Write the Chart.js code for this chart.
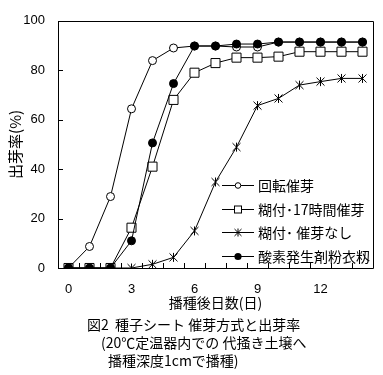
<!DOCTYPE html>
<html>
<head>
<meta charset="utf-8">
<script src="https://cdn.jsdelivr.net/npm/chart.js@4/dist/chart.umd.min.js"></script>
<style>
  html, body { margin: 0; padding: 0; background: #fff; }
  #wrap { position: relative; width: 383px; height: 375px; overflow: hidden; }
  #c { position: absolute; left: 0; top: 0; }
  .cap { position: absolute; font-family: "Noto Sans CJK JP", sans-serif; font-size: 14px; line-height: 16px; color: #000; white-space: pre; }
</style>
</head>
<body>
<div id="wrap">
  <canvas id="c" width="383" height="375"></canvas>
  <div class="cap" style="left:87px; top:316px;">図2  種子シート 催芽方式と出芽率</div>
  <div class="cap" style="left:101px; top:334px;">(20℃定温器内での 代掻き土壌へ</div>
  <div class="cap" style="left:108px; top:352px;">播種深度1cmで播種)</div>
</div>
<script>
// ---- data ----
const days = [0, 1, 2, 3, 4, 5, 6, 7, 8, 9, 10, 11, 12, 13, 14];
const xTickLabels = [0, 3, 6, 9, 12];
const yTickLabels = [0, 20, 40, 60, 80, 100];
const seriesNames = ["回転催芽", "糊付･17時間催芽", "糊付･ 催芽なし", "酸素発生剤粉衣籾"];
const kaiten     = [0, 8.7, 28.9, 64.4, 83.9, 89.0, 89.8, 89.8, 89.4, 89.4, 91.4, 91.4, 91.4, 91.4, 91.4];
const nori17     = [0, 0, 0, 16.3, 41.0, 68.0, 79.0, 82.9, 85.1, 85.1, 85.5, 87.5, 87.5, 87.5, 87.5];
const noriNashi  = [0, 0, 0, 0, 1.5, 4.3, 15.0, 34.8, 48.9, 65.7, 68.6, 74.0, 75.4, 76.7, 76.7];
const sanso      = [0, 0, 0, 11.0, 50.6, 74.6, 89.8, 89.8, 90.6, 90.6, 91.4, 91.4, 91.4, 91.4, 91.4];

function pts(vals) { return days.map((d, i) => ({ x: d, y: vals[i] })); }

function makeStar(r) {
  const s = r * 2 + 3;
  const cv = document.createElement('canvas');
  cv.width = s; cv.height = s;
  const g = cv.getContext('2d');
  const c = s / 2;
  g.strokeStyle = '#000'; g.lineWidth = 1;
  g.beginPath();
  g.moveTo(c - r, c - r); g.lineTo(c + r, c + r);
  g.moveTo(c + r, c - r); g.lineTo(c - r, c + r);
  g.moveTo(c, c - r - 0.5); g.lineTo(c, c + r + 0.5);
  g.stroke();
  return cv;
}
const starImg = makeStar(4);
const starImgSmall = makeStar(3.5);

const CJK = '"Noto Sans CJK JP", sans-serif';
const NUM = '"Liberation Sans", Arial, sans-serif';

const frameAndTicks = {
  id: 'frameAndTicks',
  beforeDatasetsDraw(chart) {
    const { ctx, chartArea: a, scales: { x, y } } = chart;
    ctx.save();
    ctx.strokeStyle = '#000';
    ctx.lineWidth = 1;
    ctx.beginPath();
    ctx.rect(Math.round(a.left) + 0.5, Math.round(a.top) + 0.5, Math.round(a.right - a.left), Math.round(a.bottom - a.top));
    // x ticks between categories, pointing inward
    for (let v = -0.5; v <= 14.5; v += 1) {
      const px = Math.round(x.getPixelForValue(v)) + 0.5;
      ctx.moveTo(px, a.bottom);
      ctx.lineTo(px, a.bottom - 5);
    }
    yTickLabels.forEach(v => {
      const py = Math.round(y.getPixelForValue(v)) + 0.5;
      ctx.moveTo(a.left, py);
      ctx.lineTo(a.left + 5, py);
    });
    ctx.stroke();
    ctx.restore();
  }
};

function drawMarker(ctx, kind, x, y) {
  ctx.save();
  ctx.strokeStyle = '#000';
  ctx.lineWidth = 1;
  if (kind === 0) {
    ctx.fillStyle = '#fff';
    ctx.beginPath(); ctx.arc(x, y, 2.8, 0, Math.PI * 2); ctx.fill(); ctx.stroke();
  } else if (kind === 1) {
    ctx.fillStyle = '#fff';
    ctx.fillRect(x - 3.5, y - 3.5, 7, 7);
    ctx.strokeRect(x - 3.5, y - 3.5, 7, 7);
  } else if (kind === 2) {
    ctx.drawImage(starImgSmall, x - starImgSmall.width / 2, y - starImgSmall.height / 2);
  } else {
    ctx.fillStyle = '#000';
    ctx.beginPath(); ctx.arc(x, y, 3.6, 0, Math.PI * 2); ctx.fill();
  }
  ctx.restore();
}

const insideLegend = {
  id: 'insideLegend',
  afterDraw(chart) {
    const { ctx } = chart;
    const rows = [185, 208.5, 232, 256];
    ctx.save();
    seriesNames.forEach((name, i) => {
      const yy = rows[i];
      ctx.strokeStyle = '#000'; ctx.lineWidth = 1;
      ctx.beginPath();
      ctx.moveTo(222, Math.round(yy) + 0.5);
      ctx.lineTo(254, Math.round(yy) + 0.5);
      ctx.stroke();
      drawMarker(ctx, i, 238, Math.round(yy) + 0.5);
      ctx.fillStyle = '#000';
      ctx.font = '14px ' + CJK;
      ctx.textBaseline = 'middle';
      ctx.textAlign = 'left';
      ctx.fillText(name, 258, yy + 1);
    });
    ctx.restore();
  }
};

const common = { borderColor: '#000', borderWidth: 1, showLine: true, tension: 0, pointBorderColor: '#000', pointBorderWidth: 1 };

new Chart(document.getElementById('c'), {
  type: 'scatter',
  data: {
    datasets: [
      Object.assign({}, common, { label: seriesNames[3], data: pts(sanso), pointStyle: 'circle', pointRadius: 4, pointBackgroundColor: '#000', order: 1 }),
      Object.assign({}, common, { label: seriesNames[0], data: pts(kaiten), pointStyle: 'circle', pointRadius: 4, pointBackgroundColor: '#fff', order: 2 }),
      Object.assign({}, common, { label: seriesNames[1], data: pts(nori17), pointStyle: 'rect', pointRadius: 6.4, pointBackgroundColor: '#fff', order: 3 }),
      Object.assign({}, common, { label: seriesNames[2], data: pts(noriNashi), pointStyle: starImg, pointRadius: 4, order: 4 })
    ]
  },
  options: {
    responsive: false,
    animation: false,
    events: [],
    layout: { padding: { left: 0, right: 10, top: 15, bottom: 64 } },
    plugins: { legend: { display: false }, tooltip: { enabled: false } },
    scales: {
      x: {
        type: 'linear',
        min: -0.5, max: 14.5,
        afterBuildTicks(s) { s.ticks = xTickLabels.map(v => ({ value: v })); },
        afterFit(s) { s.height = 43; },
        grid: { display: false, drawTicks: false },
        border: { display: false },
        ticks: { color: '#000', padding: 14, maxRotation: 0, font: { family: NUM, size: 13 } },
        title: { display: true, text: '播種後日数(日)', color: '#000', padding: 0, font: { family: CJK, size: 14 } }
      },
      y: {
        min: 0, max: 100,
        afterBuildTicks(s) { s.ticks = yTickLabels.map(v => ({ value: v })); },
        afterFit(s) { s.width = 58; },
        grid: { display: false, drawTicks: false },
        border: { display: false },
        ticks: { color: '#000', padding: 13, font: { family: NUM, size: 13 } },
        title: { display: true, text: '出芽率(%)', color: '#000', padding: { top: 6, bottom: 0 }, font: { family: CJK, size: 15 } }
      }
    }
  },
  plugins: [frameAndTicks, insideLegend]
});
</script>
</body>
</html>
